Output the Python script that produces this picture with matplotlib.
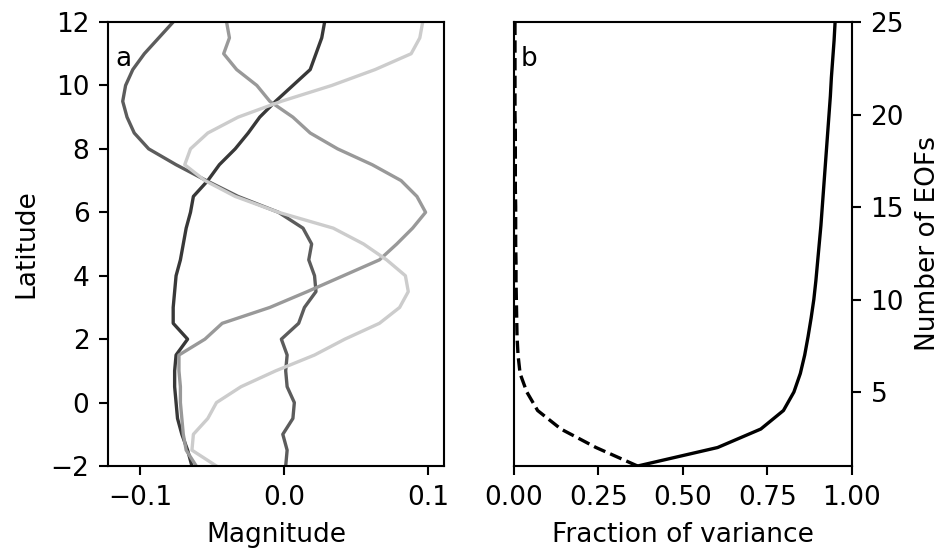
import matplotlib.pyplot as plt


# ------------------------------------------------------------
# EOF profiles by latitude and the variance they explain
# ------------------------------------------------------------

LATITUDE = [
    -2.0, -1.5, -1.0, -0.5, 0.0, 0.5, 1.0, 1.5, 2.0, 2.5,
    3.0, 3.5, 4.0, 4.5, 5.0, 5.5, 6.0, 6.5, 7.0, 7.5,
    8.0, 8.5, 9.0, 9.5, 10.0, 10.5, 11.0, 11.5, 12.0,
]

EOF_1 = [
    -0.064, -0.067, -0.071, -0.074, -0.075, -0.076, -0.076, -0.075, -0.067, -0.077,
    -0.077, -0.076, -0.075, -0.072, -0.070, -0.068, -0.065, -0.063, -0.053, -0.045,
    -0.034, -0.025, -0.017, -0.006, 0.006, 0.018, 0.022, 0.026, 0.028,
]

EOF_2 = [
    0.001, 0.002, -0.001, 0.006, 0.007, 0.002, 0.001, 0.002, -0.002, 0.010,
    0.014, 0.022, 0.021, 0.017, 0.019, 0.013, -0.004, -0.032, -0.054, -0.075,
    -0.094, -0.104, -0.109, -0.112, -0.110, -0.105, -0.097, -0.087, -0.077,
]

EOF_3 = [
    -0.061, -0.068, -0.070, -0.071, -0.072, -0.072, -0.073, -0.073, -0.055, -0.043,
    -0.010, 0.016, 0.041, 0.066, 0.078, 0.089, 0.098, 0.092, 0.081, 0.061,
    0.037, 0.018, 0.006, -0.010, -0.019, -0.033, -0.042, -0.038, -0.040,
]

EOF_4 = [
    -0.047, -0.064, -0.063, -0.053, -0.047, -0.030, -0.006, 0.021, 0.042, 0.066,
    0.080, 0.086, 0.084, 0.071, 0.055, 0.034, -0.004, -0.034, -0.055, -0.069,
    -0.065, -0.053, -0.032, -0.002, 0.033, 0.063, 0.088, 0.094, 0.096,
]

PROFILE_COLORS = ["#383838", "#5c5c5c", "#999999", "#cccccc"]

N_EOFS = list(range(1, 26))

VARIANCE_FRACTION = [
    0.366, 0.243, 0.139, 0.070, 0.038, 0.018, 0.012, 0.009, 0.008, 0.007,
    0.006, 0.006, 0.005, 0.005, 0.005, 0.004, 0.004, 0.004, 0.004, 0.003,
    0.003, 0.003, 0.003, 0.003, 0.003,
]

CUMULATIVE_FRACTION = [
    0.366, 0.603, 0.731, 0.798, 0.829, 0.848, 0.861, 0.871, 0.880, 0.888,
    0.894, 0.899, 0.904, 0.909, 0.913, 0.917, 0.921, 0.925, 0.929, 0.933,
    0.937, 0.940, 0.944, 0.948, 0.951,
]


def setup_style() -> None:
    plt.rcParams.update({
        "font.size": 9.5,
        "axes.linewidth": 0.76,
        "xtick.major.size": 3.3,
        "ytick.major.size": 3.3,
        "xtick.major.width": 0.76,
        "ytick.major.width": 0.76,
    })


def plot_profiles(ax) -> None:
    """Leading EOF patterns as functions of latitude."""
    for profile, color in zip([EOF_1, EOF_2, EOF_3, EOF_4], PROFILE_COLORS):
        ax.plot(profile, LATITUDE, color=color, linewidth=1.2)

    ax.set_xlim(-0.122, 0.111)
    ax.set_ylim(-2, 12)
    ax.set_xticks([-0.1, 0.0, 0.1])
    ax.set_xlabel("Magnitude")
    ax.set_ylabel("Latitude")
    ax.text(0.02, 0.945, "a", transform=ax.transAxes, va="top", ha="left")


def plot_variance(ax) -> None:
    """Individual (dashed) and cumulative (solid) explained variance."""
    ax.plot(VARIANCE_FRACTION, N_EOFS, color="black", linewidth=1.2,
            linestyle="--")
    ax.plot(CUMULATIVE_FRACTION, N_EOFS, color="black", linewidth=1.2)

    ax.set_xlim(0, 1)
    ax.set_ylim(1, 25)
    ax.set_xticks([0.0, 0.25, 0.5, 0.75, 1.0])
    ax.set_yticks([5, 10, 15, 20, 25])
    ax.yaxis.tick_right()
    ax.yaxis.set_label_position("right")
    ax.set_xlabel("Fraction of variance")
    ax.set_ylabel("Number of EOFs")
    ax.text(0.02, 0.945, "b", transform=ax.transAxes, va="top", ha="left")


def main() -> None:
    setup_style()

    fig = plt.figure(figsize=(4.7, 2.77), dpi=200)
    ax_a = fig.add_axes([0.1152, 0.1588, 0.3575, 0.8015])
    ax_b = fig.add_axes([0.5468, 0.1588, 0.3592, 0.8015])

    plot_profiles(ax_a)
    plot_variance(ax_b)

    fig.savefig("out.png", dpi=200)
    plt.close(fig)


if __name__ == "__main__":
    main()
